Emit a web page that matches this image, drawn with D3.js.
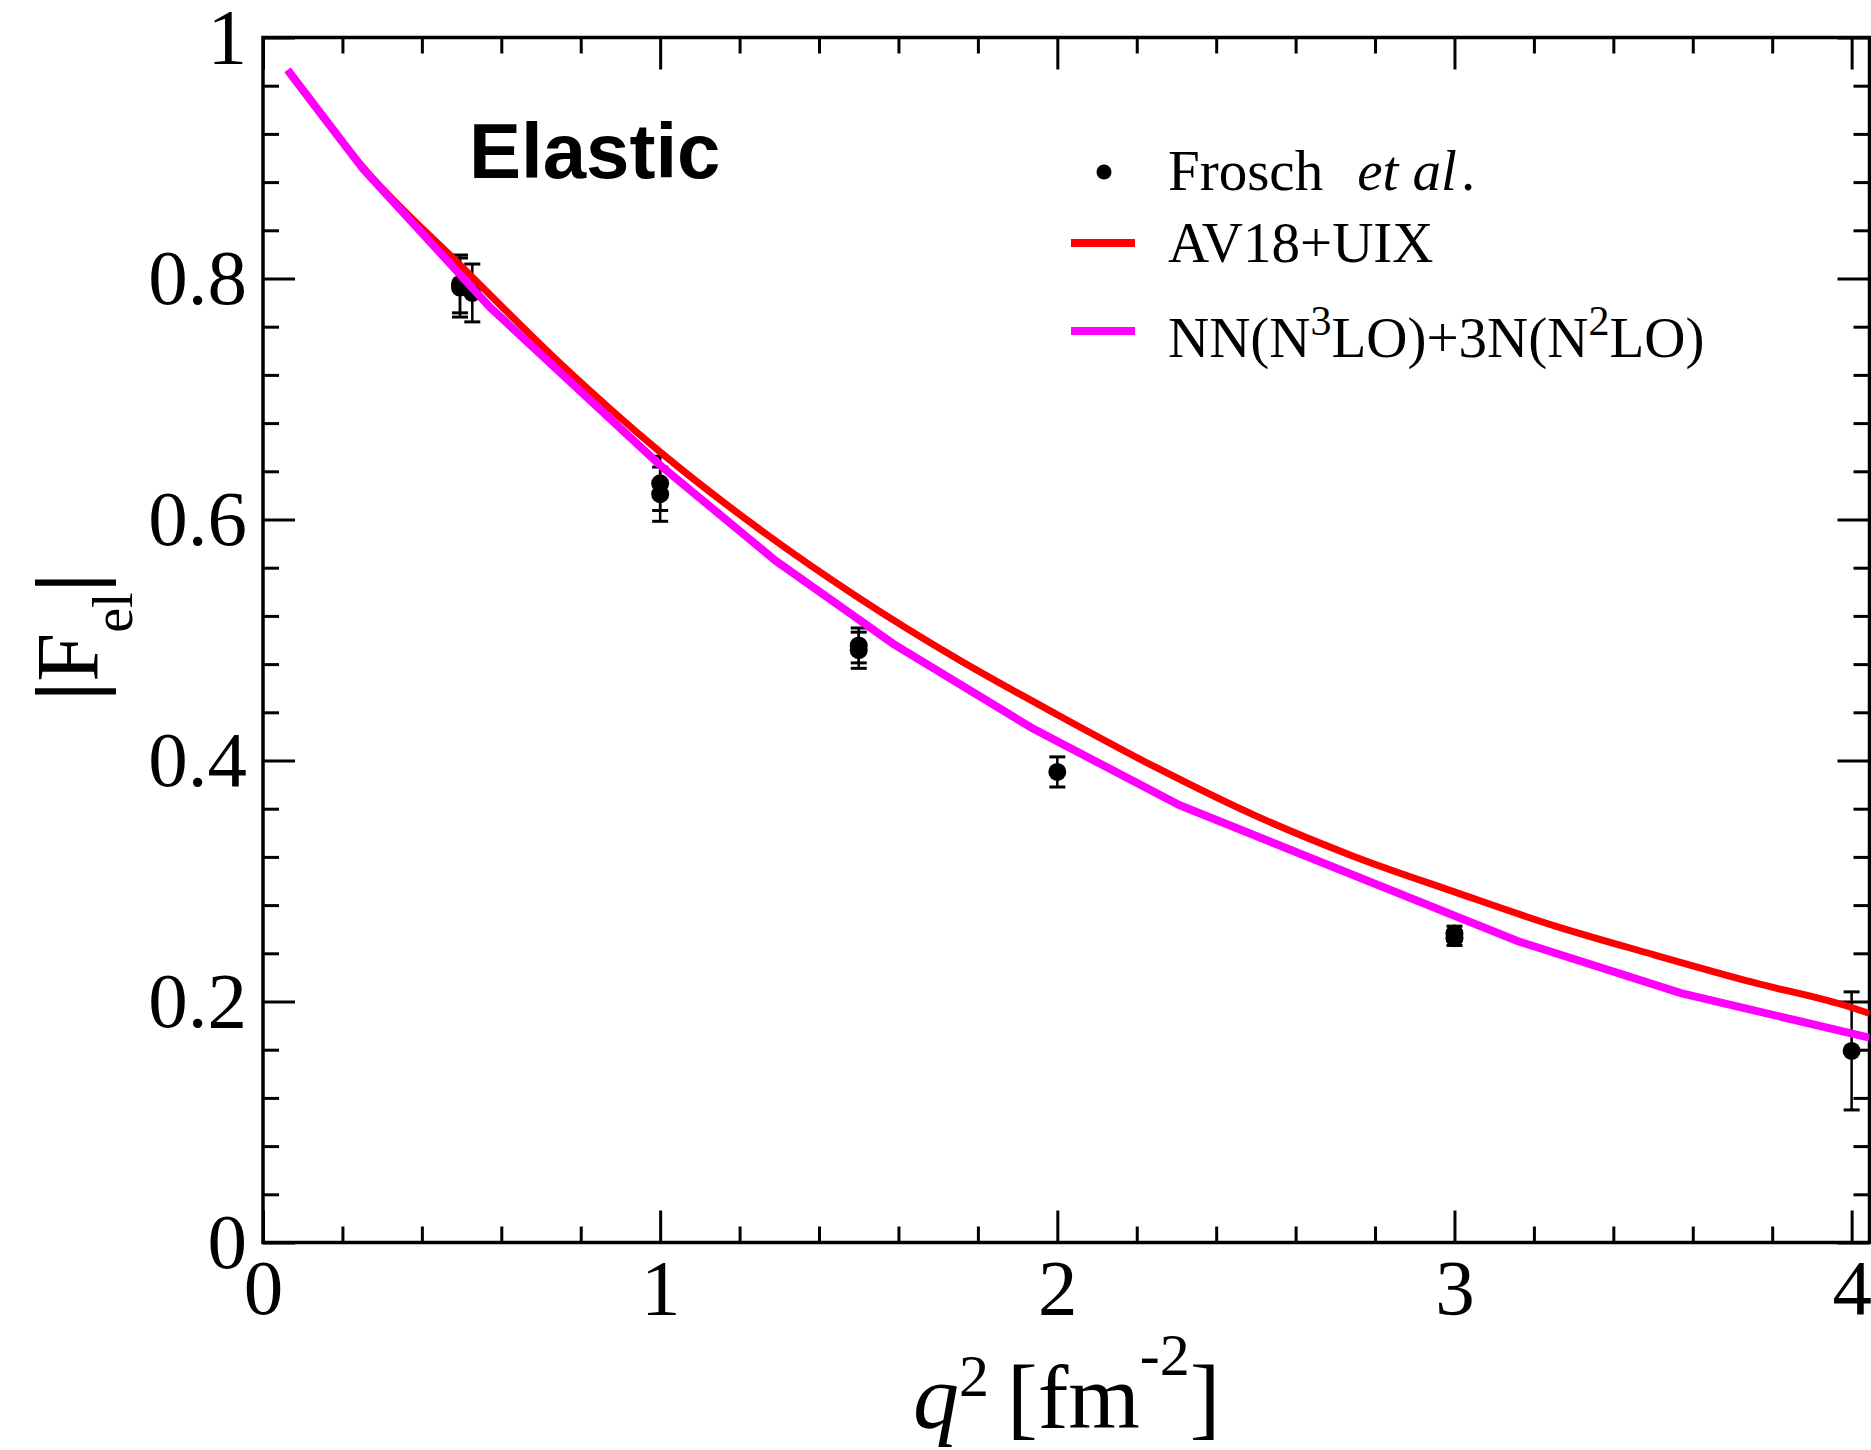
<!DOCTYPE html>
<html>
<head>
<meta charset="utf-8">
<script src="https://cdn.jsdelivr.net/npm/d3@7"></script>
<style>
  body { margin: 0; background: #fff; }
  svg { display: block; }
</style>
</head>
<body>
<svg id="chart" width="1871" height="1450"></svg>
<script>
// Axis ticks and labels
const xTickValues = [0, 1, 2, 3, 4];
const xTickLabels = ["0", "1", "2", "3", "4"];
const yTickValues = [0, 0.2, 0.4, 0.6, 0.8, 1];
const yTickLabels = ["0", "0.2", "0.4", "0.6", "0.8", "1"];
const xMinorStep = 0.2;
const yMinorStep = 0.04;

// Frosch et al. data: q^2 [fm^-2], |F_el|, error
const froschQ2  = [0.496, 0.496, 0.527, 1.0, 1.0, 1.5, 1.5, 2.0, 3.0, 3.0, 4.0];
const froschF   = [0.7955, 0.7925, 0.788, 0.630, 0.621, 0.4955, 0.4915, 0.3905, 0.2565, 0.2525, 0.159];
const froschErr = [0.024, 0.0245, 0.024, 0.0225, 0.0225, 0.0145, 0.015, 0.0125, 0.006, 0.006, 0.049];

// AV18+UIX form factor
const av18Q2 = [0.062, 0.25, 0.5, 0.75, 1.0, 1.25, 1.5, 1.75, 2.0, 2.25, 2.5, 2.75, 3.0, 3.25, 3.5, 3.75, 4.0, 4.045];
const av18F  = [0.973, 0.893, 0.810, 0.729, 0.656, 0.592, 0.535, 0.484, 0.438, 0.394, 0.354, 0.320, 0.291, 0.263, 0.239, 0.216, 0.195, 0.190];

// NN(N3LO)+3N(N2LO) form factor
const chiralQ2 = [0.062, 0.252, 0.572, 1.0, 1.29, 1.586, 1.936, 2.307, 3.16, 3.57, 4.045];
const chiralF  = [0.973, 0.891, 0.776, 0.645, 0.566, 0.497, 0.427, 0.363, 0.250, 0.207, 0.170];

const serif = "'Liberation Serif', 'Times New Roman', serif";
const sans = "'Liberation Sans', Arial, sans-serif";

const svg = d3.select("#chart");
const x = d3.scaleLinear().domain([0, 4.045]).range([263, 1869.5]);
const y = d3.scaleLinear().domain([0, 1]).range([1242.5, 37.5]);
const [x0, x1] = x.range();
const [yB, yT] = y.range();

const near = (v, arr) => arr.some(a => Math.abs(a - v) < 1e-6);
const xMinor = d3.range(0, 4.045, xMinorStep).map(v => +v.toFixed(4)).filter(v => !near(v, xTickValues));
const yMinor = d3.range(0, 1.0001, yMinorStep).map(v => +v.toFixed(4)).filter(v => !near(v, yTickValues));

function styleAxis(g, withText) {
  g.select(".domain").remove();
  g.selectAll(".tick line").attr("stroke", "#000").attr("stroke-width", 3);
  if (withText) {
    g.selectAll(".tick text").attr("fill", "#000")
      .style("font-family", serif).style("font-size", "79px");
  } else {
    g.selectAll(".tick text").remove();
  }
}

// Bottom axis
svg.append("g").attr("transform", `translate(0,${yB})`)
  .call(d3.axisBottom(x).tickValues(xMinor).tickSizeInner(-16).tickSizeOuter(0))
  .call(g => styleAxis(g, false));
svg.append("g").attr("transform", `translate(0,${yB})`)
  .call(d3.axisBottom(x).tickValues(xTickValues).tickFormat((d, i) => xTickLabels[i])
    .tickSizeInner(-32).tickSizeOuter(0).tickPadding(15.5))
  .call(g => styleAxis(g, true));

// Top axis (mirrored ticks)
svg.append("g").attr("transform", `translate(0,${yT})`)
  .call(d3.axisTop(x).tickValues(xMinor).tickSizeInner(-16).tickSizeOuter(0))
  .call(g => styleAxis(g, false));
svg.append("g").attr("transform", `translate(0,${yT})`)
  .call(d3.axisTop(x).tickValues(xTickValues).tickSizeInner(-32).tickSizeOuter(0))
  .call(g => styleAxis(g, false));

// Left axis
svg.append("g").attr("transform", `translate(${x0},0)`)
  .call(d3.axisLeft(y).tickValues(yMinor).tickSizeInner(-16).tickSizeOuter(0))
  .call(g => styleAxis(g, false));
svg.append("g").attr("transform", `translate(${x0},0)`)
  .call(d3.axisLeft(y).tickValues(yTickValues).tickFormat((d, i) => yTickLabels[i])
    .tickSizeInner(-32).tickSizeOuter(0).tickPadding(16))
  .call(g => styleAxis(g, true));

// Right axis (mirrored ticks)
svg.append("g").attr("transform", `translate(${x1},0)`)
  .call(d3.axisRight(y).tickValues(yMinor).tickSizeInner(-16).tickSizeOuter(0))
  .call(g => styleAxis(g, false));
svg.append("g").attr("transform", `translate(${x1},0)`)
  .call(d3.axisRight(y).tickValues(yTickValues).tickSizeInner(-32).tickSizeOuter(0))
  .call(g => styleAxis(g, false));

// Frame
svg.append("rect")
  .attr("x", x0).attr("y", yT).attr("width", x1 - x0).attr("height", yB - yT)
  .attr("fill", "none").attr("stroke", "#000").attr("stroke-width", 3.5);

// Data points with error bars
const pts = froschQ2.map((q, i) => ({ q, f: froschF[i], e: froschErr[i] }));
const pg = svg.append("g");
pg.selectAll("line.bar").data(pts).join("line")
  .attr("x1", d => x(d.q)).attr("x2", d => x(d.q))
  .attr("y1", d => y(d.f + d.e)).attr("y2", d => y(d.f - d.e))
  .attr("stroke", "#000").attr("stroke-width", 2.5);
pg.selectAll("line.capTop").data(pts).join("line")
  .attr("x1", d => x(d.q) - 8).attr("x2", d => x(d.q) + 8)
  .attr("y1", d => y(d.f + d.e)).attr("y2", d => y(d.f + d.e))
  .attr("stroke", "#000").attr("stroke-width", 3);
pg.selectAll("line.capBot").data(pts).join("line")
  .attr("x1", d => x(d.q) - 8).attr("x2", d => x(d.q) + 8)
  .attr("y1", d => y(d.f - d.e)).attr("y2", d => y(d.f - d.e))
  .attr("stroke", "#000").attr("stroke-width", 3);
pg.selectAll("circle").data(pts).join("circle")
  .attr("cx", d => x(d.q)).attr("cy", d => y(d.f)).attr("r", 9).attr("fill", "#000");

// Theory curves
svg.append("clipPath").attr("id", "plotClip").append("rect")
  .attr("x", x0).attr("y", yT).attr("width", x1 - x0).attr("height", yB - yT);

const av18Line = d3.line().x(d => x(d[0])).y(d => y(d[1])).curve(d3.curveMonotoneX);
const chiralLine = d3.line().x(d => x(d[0])).y(d => y(d[1]));

svg.append("path")
  .datum(av18Q2.map((q, i) => [q, av18F[i]]))
  .attr("d", av18Line).attr("clip-path", "url(#plotClip)")
  .attr("fill", "none").attr("stroke", "#ff0000").attr("stroke-width", 7);
svg.append("path")
  .datum(chiralQ2.map((q, i) => [q, chiralF[i]]))
  .attr("d", chiralLine).attr("clip-path", "url(#plotClip)")
  .attr("fill", "none").attr("stroke", "#ff00ff").attr("stroke-width", 8);

// Panel label
svg.append("text").attr("x", 469).attr("y", 178)
  .style("font-family", sans).style("font-weight", "bold").style("font-size", "78px")
  .attr("fill", "#000").text("Elastic");

// Legend
const leg = svg.append("g");
leg.append("circle").attr("cx", 1104).attr("cy", 172).attr("r", 7.5).attr("fill", "#000");
leg.append("line").attr("x1", 1071).attr("x2", 1135).attr("y1", 243).attr("y2", 243)
  .attr("stroke", "#ff0000").attr("stroke-width", 8);
leg.append("line").attr("x1", 1071).attr("x2", 1135).attr("y1", 331).attr("y2", 331)
  .attr("stroke", "#ff00ff").attr("stroke-width", 8);

function legendText(yBase) {
  return leg.append("text")
    .attr("x", 1168).attr("y", yBase)
    .style("font-family", serif).style("font-size", "57px").attr("fill", "#000");
}
const t1 = legendText(190);
t1.append("tspan").text("Frosch");
t1.append("tspan").attr("dx", 34).style("font-style", "italic").text("et al");
t1.append("tspan").attr("dx", 4).text(".");

legendText(262).text("AV18+UIX");

const t3 = legendText(357);
t3.append("tspan").text("NN(N");
t3.append("tspan").attr("dy", -22).style("font-size", "42px").text("3");
t3.append("tspan").attr("dy", 22).text("LO)+3N(N");
t3.append("tspan").attr("dy", -22).style("font-size", "42px").text("2");
t3.append("tspan").attr("dy", 22).text("LO)");

// X axis title
const xt = svg.append("text").attr("x", 913).attr("y", 1428)
  .style("font-family", serif).style("font-size", "92px").attr("fill", "#000");
xt.append("tspan").style("font-style", "italic").text("q");
xt.append("tspan").attr("dy", -32).style("font-size", "60px").text("2");
xt.append("tspan").attr("dy", 32).attr("dx", 18).text("[fm");
xt.append("tspan").attr("dy", -53).style("font-size", "60px").text("-2");
xt.append("tspan").attr("dy", 53).text("]");

// Y axis title
const yt = svg.append("text").attr("transform", "translate(97,637) rotate(-90)")
  .attr("text-anchor", "middle")
  .style("font-family", serif).style("font-size", "88px").attr("fill", "#000");
yt.append("tspan").style("font-weight", "bold").text("|");
yt.append("tspan").text("F");
yt.append("tspan").attr("dy", 35).style("font-size", "56px").text("el");
yt.append("tspan").attr("dy", -35).style("font-weight", "bold").text("|");
</script>
</body>
</html>
